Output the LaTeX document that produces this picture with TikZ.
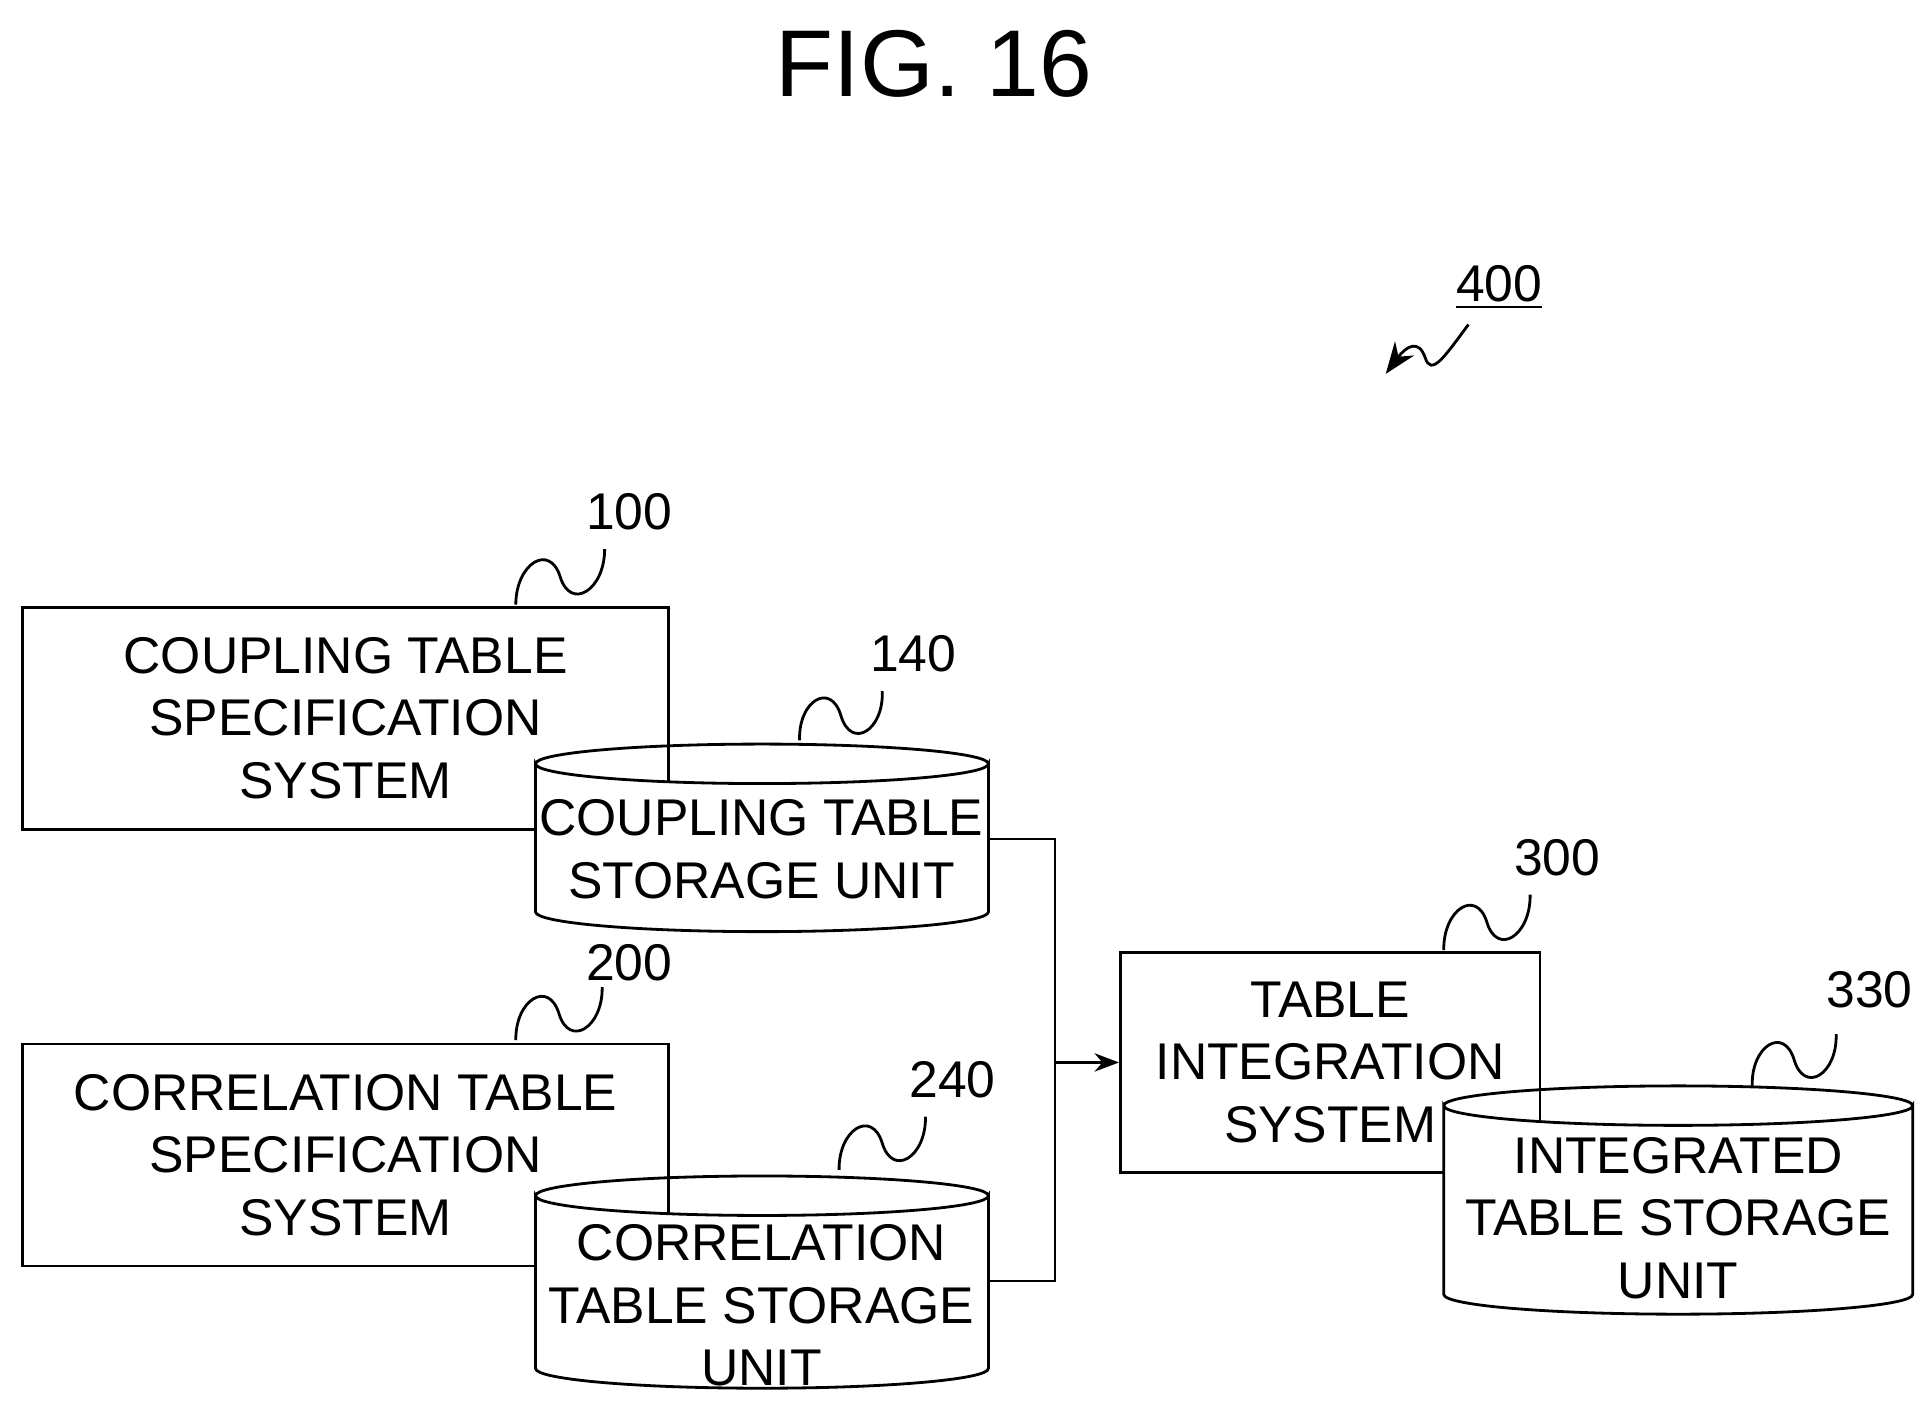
\documentclass[tikz,border=0pt]{standalone}
\usepackage{fontspec}
\setmainfont{Liberation Sans}
\usetikzlibrary{arrows.meta}

\tikzset{
  unit/.style = {draw, thick, fill=white, align=center, font=\fontsize{14.7}{17.8}\selectfont},
  ref/.style = {font=\fontsize{14.7}{17.8}\selectfont},
  wave/.style = {thick},
  link/.style = {semithick}
}
% storage drum: #1 name, #2 left, #3 top, #4 right, #5 bottom, #6 text
\newcommand{\drum}[6]{
  \draw[thick, fill=white] (#2,#3+16) -- (#2,#5-16)
    arc[start angle=180, end angle=360, x radius={(#4-#2)/2}, y radius=-16]
    -- (#4,#3+16) arc[start angle=0, end angle=-180, x radius={(#4-#2)/2}, y radius=-16] -- cycle;
  \draw[thick] (#2,#3+16) arc[start angle=180, end angle=360, x radius={(#4-#2)/2}, y radius=16];
  \node[align=center, font=\fontsize{14.7}{17.8}\selectfont, inner sep=0, minimum width={(#4-#2)*0.01234cm}, minimum height={(#5-#3)*0.01234cm}] (#1) at ({(#2+#4)/2},{(#3+#5)/2}) {};
}
\newcommand{\squig}[2]{
  \draw[wave] (#1) .. controls ($(#1)!0.25!(#2)+(-18,-22)$) and ($(#1)!0.45!(#2)+(-5,-30)$) .. ($(#1)!0.5!(#2)$)
    .. controls ($(#1)!0.55!(#2)+(5,30)$) and ($(#1)!0.75!(#2)+(18,22)$) .. (#2);
}
\usetikzlibrary{calc}

\begin{document}
\begin{tikzpicture}[x=0.01234cm, y=-0.01234cm]
  \useasboundingbox (0,0) rectangle (1560,1140);
  \node[font=\fontsize{27}{30}\selectfont] (title) at (757,52) {FIG. 16};

  % overall system
  \node[ref] (n400) at (1215,233) {\underline{400}};
  \coordinate (t400) at (1190,263);
  \coordinate (h400) at (1123,303);
  \draw[wave, -{Stealth[length=9pt]}] (t400) .. controls (1170,290) and (1160,305) .. (1155,290)
    .. controls (1150,275) and (1140,280) .. (h400);

  % systems
  \node[unit, minimum width=524*0.01234cm, minimum height=180*0.01234cm] (cps) at (280,582)
    {COUPLING TABLE\\SPECIFICATION\\SYSTEM};
  \node[unit, minimum width=524*0.01234cm, minimum height=180*0.01234cm] (crs) at (280,936)
    {CORRELATION TABLE\\SPECIFICATION\\SYSTEM};
  \node[unit, minimum width=340*0.01234cm, minimum height=178*0.01234cm] (tis) at (1078,861)
    {TABLE\\INTEGRATION\\SYSTEM};

  % storage units
  \drum{cst}{434}{603}{801}{755}{}
  \node[ref, align=center] at (617,688) {COUPLING TABLE\\STORAGE UNIT};
  \drum{rst}{434}{953}{801}{1125}{}
  \node[ref, align=center] at (617,1058) {CORRELATION\\TABLE STORAGE\\UNIT};
  \drum{ist}{1170}{880}{1550}{1065}{}
  \node[ref, align=center] at (1360,987) {INTEGRATED\\TABLE STORAGE\\UNIT};

  % reference numerals
  \node[ref] (n100) at (510,415) {100};
  \node[ref] (n140) at (740,530) {140};
  \node[ref] (n200) at (510,780) {200};
  \node[ref] (n240) at (772,875) {240};
  \node[ref] (n300) at (1262,695) {300};
  \node[ref] (n330) at (1515,802) {330};
  \squig{418,490}{490,445}
  \squig{648,600}{715,560}
  \squig{418,843}{488,800}
  \squig{680,948}{750,905}
  \squig{1170,770}{1240,725}
  \squig{1420,880}{1488,838}

  % connectors
  \coordinate (j) at (855,861);
  \draw[link] (cst.east |- 0,680) -| (j);
  \draw[link] (rst.east |- 0,1038) -| (j);
  \draw[link, -{Stealth[length=7pt]}] (j) -- (tis.west);
\end{tikzpicture}
\end{document}
